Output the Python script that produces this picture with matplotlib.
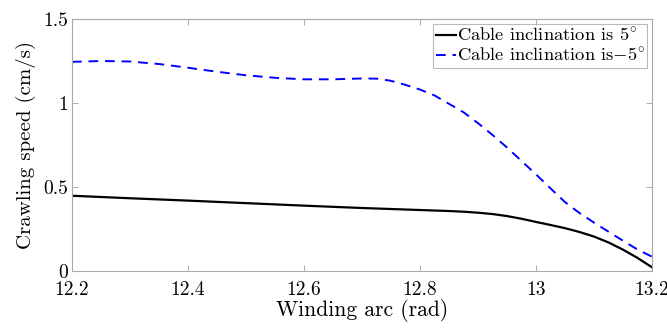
import numpy as np
import matplotlib
matplotlib.use("Agg")
import matplotlib.pyplot as plt

plt.rcParams['font.family'] = 'serif'
plt.rcParams['font.serif'] = ['cmr10']
plt.rcParams['mathtext.fontset'] = 'cm'
plt.rcParams['axes.formatter.use_mathtext'] = True
plt.rcParams['axes.unicode_minus'] = False

# values
arc_pos5 = [12.2, 12.3, 12.4, 12.5, 12.6, 12.7, 12.75, 12.8, 12.85, 12.875, 12.9,
            12.925, 12.95, 12.975, 13.0, 13.025, 13.05, 13.075, 13.1, 13.125,
            13.15, 13.175, 13.2]
speed_pos5 = [0.448, 0.433, 0.419, 0.404, 0.389, 0.375, 0.369, 0.363, 0.357, 0.353, 0.347,
              0.339, 0.327, 0.311, 0.292, 0.274, 0.255, 0.232, 0.205, 0.170,
              0.127, 0.078, 0.022]

arc_neg5 = [12.2, 12.25, 12.3, 12.35, 12.4, 12.45, 12.5, 12.55, 12.6, 12.65, 12.7,
            12.725, 12.75, 12.775, 12.8, 12.825, 12.85, 12.875, 12.9, 12.925,
            12.95, 12.975, 13.0, 13.025, 13.05, 13.075, 13.1, 13.125, 13.15,
            13.175, 13.2]
speed_neg5 = [1.245, 1.250, 1.247, 1.232, 1.210, 1.186, 1.165, 1.150, 1.141, 1.141, 1.146,
              1.145, 1.132, 1.108, 1.080, 1.045, 0.995, 0.945, 0.880, 0.810,
              0.735, 0.655, 0.575, 0.492, 0.410, 0.345, 0.288, 0.234, 0.180,
              0.128, 0.085]

xticks = [12.2, 12.4, 12.6, 12.8, 13.0, 13.2]
xtick_labels = ['12.2', '12.4', '12.6', '12.8', '13', '13.2']
yticks = [0, 0.5, 1, 1.5]
ytick_labels = ['0', '0.5', '1', '1.5']

fig = plt.figure(figsize=(6.67, 3.29), dpi=100)
ax = fig.add_axes([72/667, 1 - 271/329, 580/667, 252/329])

ax.plot(arc_pos5, speed_pos5, color='black', lw=1.6, label=r'Cable inclination is $5^{\circ}$')
ax.plot(arc_neg5, speed_neg5, color='blue', lw=1.4, linestyle=(0, (5, 3.5)),
        label=r'Cable inclination is$-5^{\circ}$')

ax.set_xlim(12.2, 13.2)
ax.set_ylim(0, 1.5)
ax.set_xticks(xticks)
ax.set_xticklabels(xtick_labels)
ax.set_yticks(yticks)
ax.set_yticklabels(ytick_labels)
ax.tick_params(direction='in', length=4, width=0.6, color='#a0a0a0',
               top=True, right=True, labelsize=14)
ax.tick_params(axis='x', pad=7)
ax.tick_params(axis='y', pad=3)
for s in ax.spines.values():
    s.set_color('#a8a8a8')
    s.set_linewidth(0.8)

ax.set_xlabel('Winding arc (rad)', fontsize=15.5, labelpad=0)
ax.set_ylabel('Crawling speed (cm/s)', fontsize=15, labelpad=5)

leg = ax.legend(loc='upper right', fontsize=13.3, frameon=True, fancybox=False,
                handlelength=1.05, handletextpad=0.05, borderpad=0.15,
                labelspacing=0.1, borderaxespad=0.25)
leg.get_frame().set_edgecolor('#a8a8a8')
leg.get_frame().set_linewidth(0.8)

fig.savefig('out.png', dpi=100)
